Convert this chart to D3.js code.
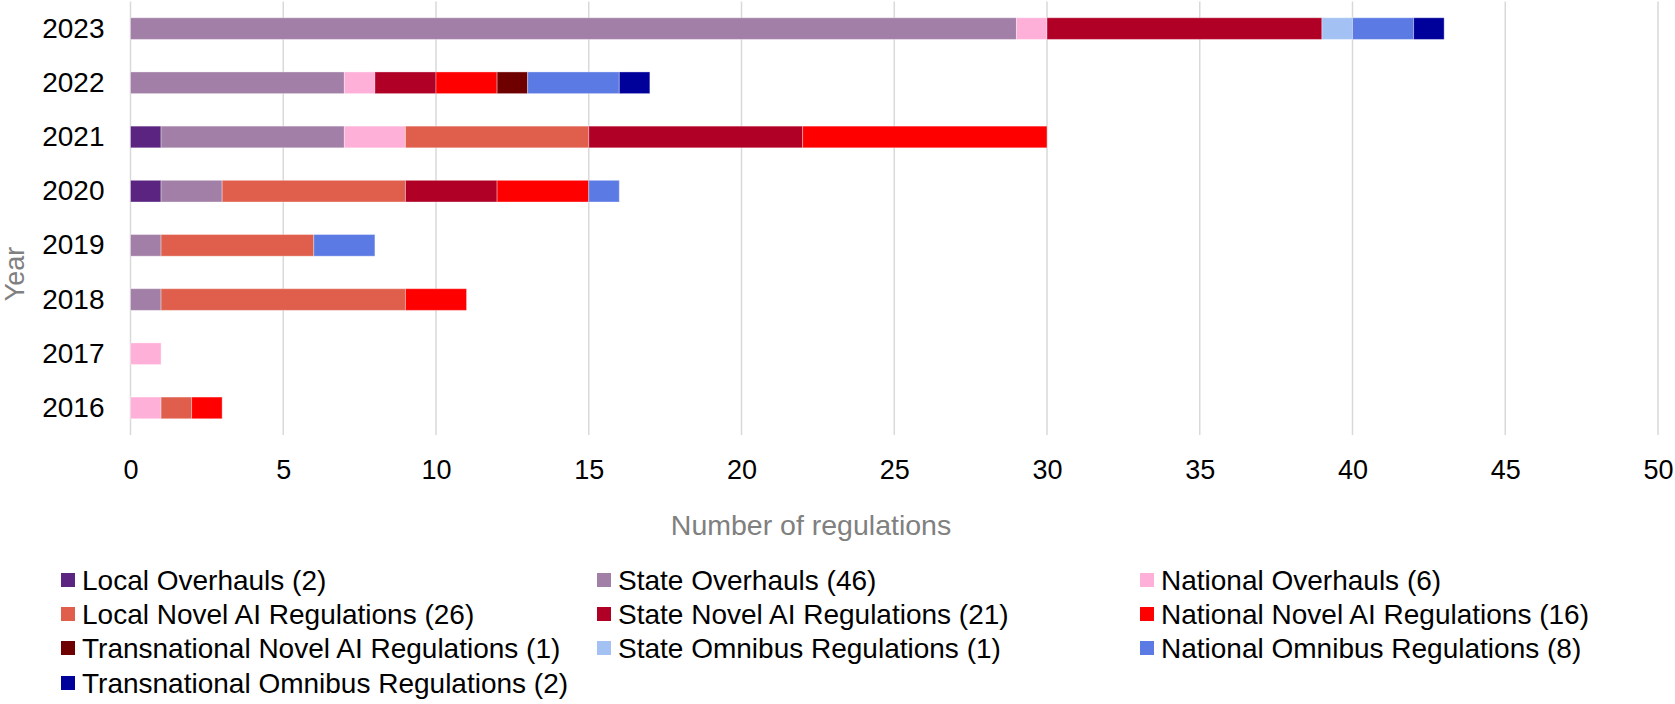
<!DOCTYPE html>
<html>
<head>
<meta charset="utf-8">
<script src="https://cdn.jsdelivr.net/npm/d3@7"></script>
<style>
  html, body { margin: 0; padding: 0; background: #fff; }
  svg { display: block; font-family: "Liberation Sans", Arial, Helvetica, sans-serif; }
</style>
</head>
<body>
<div id="chart"></div>
<script>
// --- data ---
const years = ["2023", "2022", "2021", "2020", "2019", "2018", "2017", "2016"];
const xTicks = [0, 5, 10, 15, 20, 25, 30, 35, 40, 45, 50];

const seriesNames = [
  "Local Overhauls", "State Overhauls", "National Overhauls",
  "Local Novel AI Regulations", "State Novel AI Regulations", "National Novel AI Regulations",
  "Transnational Novel AI Regulations", "State Omnibus Regulations", "National Omnibus Regulations",
  "Transnational Omnibus Regulations"
];
const seriesColors = [
  "#5a2480", "#a27fa7", "#ffb0d8",
  "#df5f4c", "#b10026", "#ff0000",
  "#6e0000", "#a3c2f3", "#5b7ae3",
  "#00009b"
];

// values per year, same order as years
const localOverhauls     = [0, 0, 1, 1, 0, 0, 0, 0];
const stateOverhauls     = [29, 7, 6, 2, 1, 1, 0, 0];
const nationalOverhauls  = [1, 1, 2, 0, 0, 0, 1, 1];
const localNovel         = [0, 0, 6, 6, 5, 8, 0, 1];
const stateNovel         = [9, 2, 7, 3, 0, 0, 0, 0];
const nationalNovel      = [0, 2, 8, 3, 0, 2, 0, 1];
const transnationalNovel = [0, 1, 0, 0, 0, 0, 0, 0];
const stateOmnibus       = [1, 0, 0, 0, 0, 0, 0, 0];
const nationalOmnibus    = [2, 3, 0, 1, 2, 0, 0, 0];
const transnationalOmni  = [1, 1, 0, 0, 0, 0, 0, 0];

const seriesValues = [
  localOverhauls, stateOverhauls, nationalOverhauls,
  localNovel, stateNovel, nationalNovel,
  transnationalNovel, stateOmnibus, nationalOmnibus, transnationalOmni
];

// --- layout ---
const W = 1675, H = 704;
const plot = {left: 130.5, right: 1658, top: 1.5, bottom: 435};

const svg = d3.select("#chart").append("svg")
  .attr("width", W).attr("height", H);

// rows for the stack
const rows = years.map((yr, i) => {
  const r = {year: yr};
  seriesNames.forEach((s, j) => { r[s] = seriesValues[j][i]; });
  return r;
});
const stacked = d3.stack().keys(seriesNames)(rows);

const x = d3.scaleLinear().domain([0, 50]).range([plot.left, plot.right]);
const y = d3.scaleBand().domain(years).range([plot.top, plot.bottom])
  .paddingInner(0.6).paddingOuter(0.3);
const color = d3.scaleOrdinal().domain(seriesNames).range(seriesColors);

// gridlines
svg.append("g")
  .selectAll("line")
  .data(xTicks)
  .join("line")
    .attr("x1", d => x(d)).attr("x2", d => x(d))
    .attr("y1", plot.top).attr("y2", plot.bottom)
    .attr("stroke", "#d9d9d9")
    .attr("stroke-width", 1.5);

// bars
svg.append("g")
  .selectAll("g")
  .data(stacked)
  .join("g")
    .attr("fill", d => color(d.key))
  .selectAll("rect")
  .data(d => d.filter(p => p[1] > p[0]))
  .join("rect")
    .attr("x", d => x(d[0]))
    .attr("y", d => y(d.data.year))
    .attr("width", d => x(d[1]) - x(d[0]))
    .attr("height", y.bandwidth())
    .attr("stroke", "#fff")
    .attr("stroke-opacity", 0.35)
    .attr("stroke-width", 1);

// x axis
const xAxis = svg.append("g")
  .attr("transform", `translate(0,${plot.bottom})`)
  .call(d3.axisBottom(x).tickValues(xTicks).tickSize(0).tickPadding(25));
xAxis.select(".domain").remove();
xAxis.selectAll("text")
  .attr("font-size", 27)
  .attr("font-family", "Liberation Sans, Arial, sans-serif")
  .attr("fill", "#000");

// y axis
const yAxis = svg.append("g")
  .attr("transform", `translate(${plot.left},0)`)
  .call(d3.axisLeft(y).tickSize(0).tickPadding(26));
yAxis.select(".domain").remove();
yAxis.selectAll("text")
  .attr("font-size", 28)
  .attr("font-family", "Liberation Sans, Arial, sans-serif")
  .attr("fill", "#000");

// axis titles
svg.append("text")
  .attr("x", 811).attr("y", 535)
  .attr("text-anchor", "middle")
  .attr("font-size", 28.5)
  .attr("fill", "#808080")
  .text("Number of regulations");

svg.append("text")
  .attr("transform", "translate(24,274) rotate(-90)")
  .attr("text-anchor", "middle")
  .attr("font-size", 27)
  .attr("fill", "#808080")
  .text("Year");

// legend
const legendCols = [61, 597, 1140];
const legendRowY = [580, 614, 648, 683];
const legend = svg.append("g")
  .selectAll("g")
  .data(seriesNames)
  .join("g")
    .attr("transform", (d, i) => `translate(${legendCols[i % 3]},${legendRowY[Math.floor(i / 3)]})`);

legend.append("rect")
  .attr("x", 0).attr("y", -7)
  .attr("width", 14).attr("height", 14)
  .attr("fill", d => color(d));

legend.append("text")
  .attr("x", 21).attr("y", 0)
  .attr("dy", "0.35em")
  .attr("font-size", 28)
  .attr("fill", "#000")
  .text((d, i) => `${d} (${d3.sum(seriesValues[i])})`);
</script>
</body>
</html>
